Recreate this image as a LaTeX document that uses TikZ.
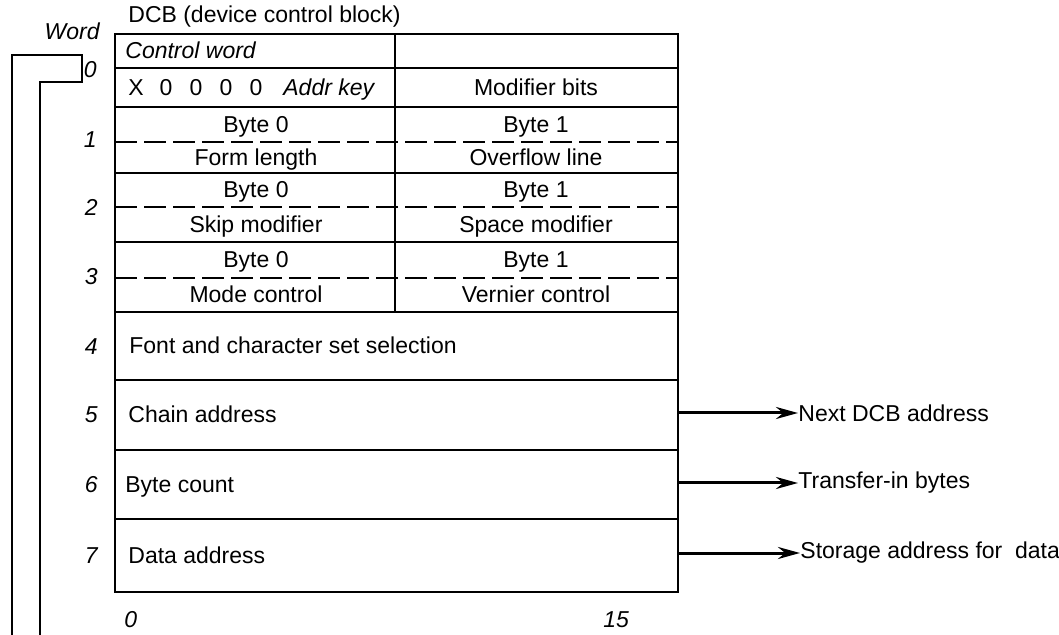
\documentclass[tikz,border=0pt]{standalone}
\usepackage{fontspec}
\setmainfont{Liberation Sans}
\usetikzlibrary{arrows.meta}
\begin{document}
\begin{tikzpicture}[x=0.5pt,y=-0.5pt,
  font=\fontsize{11.5}{13}\selectfont,
  frame/.style={line width=1pt},
  bytesep/.style={line width=0.9pt, dash pattern=on 11pt off 3.5pt},
  txt/.style={inner sep=0pt, anchor=base west},
  ctxt/.style={inner sep=0pt, anchor=base},
  itx/.style={inner sep=0pt, anchor=base west, font=\fontsize{11.5}{13}\selectfont\itshape},
  wnum/.style={inner sep=0pt, anchor=base east, font=\fontsize{11.5}{13}\selectfont\itshape},
  arr/.style={line width=1.5pt, -{Stealth[length=11pt,width=6pt]}},
  link/.style={line width=1.1pt, line join=miter}]
\useasboundingbox (0,0) rectangle (1059,635);

% title and column heading
\node[txt] (title) at (128,23) {DCB (device control block)};
\node[wnum] (wordhd) at (100,40) {Word};

% outer frame of the block
\draw[frame] (115,34) rectangle (678,592);
% full-width separators between words
\foreach \yy in {68,107,173,242,312,380,450,519}
  \draw[frame] (115,\yy) -- (678,\yy);
% byte divider of words 0-3
\draw[line width=0.9pt] (395,34) -- (395,312);
% dashed byte separators
\foreach \yy in {142,207,278}
  \draw[bytesep] (115,\yy) -- (678,\yy);

% word 0
\node[itx] (cw) at (125,59) {Control word};
\node[ctxt] (bx) at (136,96) {X};
\node[ctxt] (bz1) at (166,96) {0};
\node[ctxt] (bz2) at (196,96) {0};
\node[ctxt] (bz3) at (226,96) {0};
\node[ctxt] (bz4) at (256,96) {0};
\node[itx] (akey) at (283,96) {Addr key};
\node[ctxt] (mod) at (536,96) {Modifier bits};

% word 1
\node[ctxt] (w1b0) at (256,133) {Byte 0};
\node[ctxt] (w1b1) at (536,133) {Byte 1};
\node[ctxt] (w1l) at (256,166) {Form length};
\node[ctxt] (w1r) at (536,166) {Overflow line};

% word 2
\node[ctxt] (w2b0) at (256,198) {Byte 0};
\node[ctxt] (w2b1) at (536,198) {Byte 1};
\node[ctxt] (w2l) at (256,233) {Skip modifier};
\node[ctxt] (w2r) at (536,233) {Space modifier};

% word 3
\node[ctxt] (w3b0) at (256,268) {Byte 0};
\node[ctxt] (w3b1) at (536,268) {Byte 1};
\node[ctxt] (w3l) at (256,303) {Mode control};
\node[ctxt] (w3r) at (536,303) {Vernier control};

% words 4-7
\node[txt] (w4) at (129,354) {Font and character set selection};
\node[txt] (w5) at (128,423) {Chain address};
\node[txt] (w6) at (125,493) {Byte count};
\node[txt] (w7) at (128,563) {Data address};

% word numbers
\node[wnum] (n0) at (97,78) {0};
\node[wnum] (n1) at (97,148) {1};
\node[wnum] (n2) at (98,216) {2};
\node[wnum] (n3) at (98,285) {3};
\node[wnum] (n4) at (98,355) {4};
\node[wnum] (n5) at (98,423) {5};
\node[wnum] (n6) at (98,493) {6};
\node[wnum] (n7) at (98,563) {7};

% bit numbers
\node[itx] (bit0) at (124,627) {0};
\node[itx] (bit15) at (603,627) {15};

% pointers out of words 5-7
\coordinate (p5) at (678,413);
\coordinate (p6) at (678,483);
\coordinate (p7) at (678,553);
\node[inner sep=0pt, anchor=west] (t5) at (798,413) {\vphantom{A}Next DCB address};
\node[inner sep=0pt, anchor=west] (t6) at (798,483) {\vphantom{A}Transfer-in bytes};
\node[inner sep=0pt, anchor=west] (t7) at (800,553) {\vphantom{A}Storage address for\ \ data};
\draw[arr] (p5) -- (t5.west);
\draw[arr] (p6) -- (t6.west);
\draw[arr] (p7) -- (t7.west);

% chain link on the left
\coordinate (la) at (12,635);
\coordinate (lb) at (40,635);
\draw[link] (la) -- (12,55) -- (82,55) -- (82,82) -- (40,82) -- (lb);
\end{tikzpicture}
\end{document}
